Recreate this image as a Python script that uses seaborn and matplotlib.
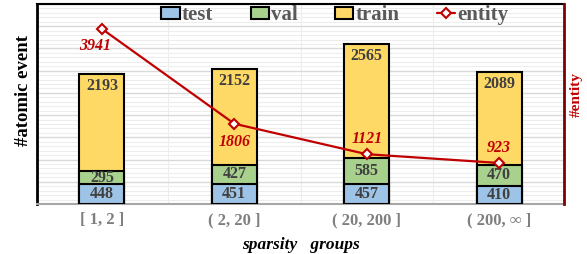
import numpy as np
import pandas as pd
import matplotlib.pyplot as plt
import seaborn as sns
from matplotlib.patches import Patch
from matplotlib.lines import Line2D
from matplotlib.ticker import MultipleLocator

# --- data ---
groups = ["[ 1, 2 ]", "( 2, 20 ]", "( 20, 200 ]", "( 200, \u221e ]"]
test = [448, 451, 457, 410]
val = [295, 427, 585, 470]
train = [2193, 2152, 2565, 2089]
entity = [3941, 1806, 1121, 923]

sns.set_theme(style="white")
plt.rcParams['font.family'] = ['Liberation Serif', 'DejaVu Serif']

c_test, c_val, c_train = "#9DC3E6", "#A9D18E", "#FFD966"
c_red = "#C00000"
txt = "#404040"

df = pd.DataFrame({"group": groups, "test": test, "val": val, "train": train})
df["tv"] = df["test"] + df["val"]
df["total"] = df["tv"] + df["train"]

fig = plt.figure(figsize=(5.87, 2.54), dpi=100)
ax = fig.add_axes([37 / 587, 50 / 254, 527 / 587, 200 / 254])

# stacked bars: draw cumulative heights, tallest first
bw = 0.34
for col, c in [("total", c_train), ("tv", c_val), ("test", c_test)]:
    sns.barplot(data=df, x="group", y=col, color=c, width=bw, saturation=1,
                edgecolor="black", linewidth=1.5, ax=ax, zorder=3)

ax.set_ylim(0, 4500)
ax.set_xlim(-0.49, 3.49)
ax.yaxis.set_major_locator(MultipleLocator(500))
ax.yaxis.set_minor_locator(MultipleLocator(100))
ax.xaxis.set_minor_locator(MultipleLocator(0.5))
ax.grid(which="major", axis="y", color="#D9D9D9", lw=1.0, zorder=0)
ax.grid(which="minor", axis="y", color="#EDEDED", lw=0.8, zorder=0)
ax.grid(which="minor", axis="x", color="#EDEDED", lw=0.8, zorder=0)
ax.set_axisbelow(True)

ax.set_ylabel("#atomic event", fontsize=13.5, fontweight="bold", color="black")
ax.yaxis.set_label_coords(-0.01, 0.57)
ax.set_xlabel("sparsity   groups", fontsize=12.5, fontweight="bold", style="italic",
              color="black", labelpad=6)

for s in ["left", "top"]:
    ax.spines[s].set_color("black")
ax.spines["left"].set_linewidth(2)
ax.spines["top"].set_linewidth(1.5)
ax.spines["bottom"].set_color("#A6A6A6")
ax.spines["bottom"].set_linewidth(1.5)
ax.spines["right"].set_visible(False)

# bar value labels
x = np.arange(len(groups))
for i in x:
    ax.text(i, test[i] / 2, str(test[i]), ha="center", va="center",
            fontsize=11.5, fontweight="bold", color=txt, zorder=5)
    ax.text(i, test[i] + val[i] / 2, str(val[i]), ha="center", va="center",
            fontsize=11.5, fontweight="bold", color=txt, zorder=5)
    ax.annotate(str(train[i]), (i, df["total"][i]), xytext=(0, -3),
                textcoords="offset points", ha="center", va="top",
                fontsize=11.5, fontweight="bold", color=txt, zorder=5)

# entity line on twin axis
ax2 = ax.twinx()
sns.lineplot(x=x, y=entity, ax=ax2, color=c_red, lw=1.6, marker="D",
             markersize=5, markerfacecolor="white", markeredgecolor=c_red,
             markeredgewidth=1.5, zorder=6)
ax2.set_ylim(0, 4500)
ax2.set_ylabel("#entity", fontsize=11, fontweight="bold", color=c_red)
ax2.yaxis.set_label_coords(1.011, 0.545)
for s in ["left", "top", "bottom"]:
    ax2.spines[s].set_visible(False)
ax2.spines["right"].set_color("#7F0000")
ax2.spines["right"].set_linewidth(2)

# no tick marks anywhere (twinx re-enables left ticks, so do this last)
ax.tick_params(axis="y", which="both", left=False, right=False, labelleft=False, length=0)
ax.tick_params(axis="x", which="both", bottom=False, top=False, length=0, pad=6)
ax2.tick_params(axis="y", which="both", left=False, right=False, labelright=False, length=0)
for lab in ax.get_xticklabels():
    lab.set_fontweight("bold")
    lab.set_color("#7F7F7F")
    lab.set_fontsize(12)

offsets = [(-5, -12), (0, -13), (0, 11), (0, 11)]
for i, (dx, dy) in zip(x, offsets):
    ax2.annotate(str(entity[i]), (i, entity[i]), xytext=(dx, dy),
                 textcoords="offset points", ha="center", va="center",
                 fontsize=11.5, fontweight="bold", style="italic", color=c_red)

handles = [Patch(facecolor=c_test, edgecolor="black", lw=1.5),
           Patch(facecolor=c_val, edgecolor="black", lw=1.5),
           Patch(facecolor=c_train, edgecolor="black", lw=1.5),
           Line2D([], [], color=c_red, lw=1.6, marker="D", markersize=5,
                  markerfacecolor="white", markeredgecolor=c_red, markeredgewidth=1.5)]
leg = ax2.legend(handles, ["test", "val", "train", "entity"], loc="center",
                 bbox_to_anchor=(0.565, 0.945), ncol=4, frameon=False,
                 handlelength=0.87, handleheight=0.5, handletextpad=0.1,
                 columnspacing=1.8, borderpad=0, prop={"weight": "bold", "size": 15})
for t in leg.get_texts():
    t.set_color("#595959")

fig.savefig("out.png", dpi=100)
